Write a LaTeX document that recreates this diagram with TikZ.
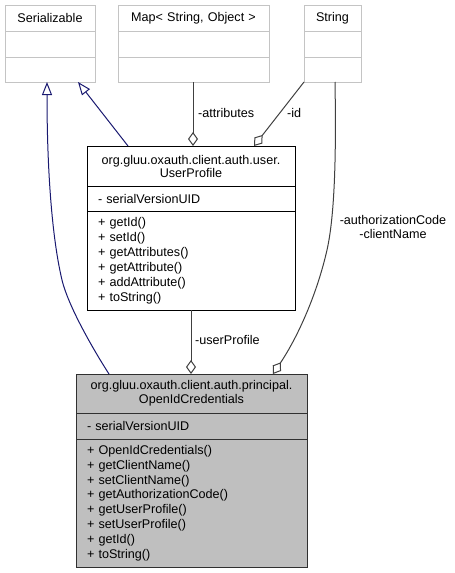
\documentclass[tikz,border=0pt]{standalone}
\usepackage{fontspec}
\setmainfont{Liberation Sans}
\usetikzlibrary{arrows.meta,calc}
\definecolor{edgeblue}{RGB}{25,25,112}
\definecolor{edgegray}{RGB}{64,64,64}
\definecolor{boxgray}{RGB}{191,191,191}
\definecolor{lightline}{RGB}{196,196,196}
\definecolor{darkline}{RGB}{48,48,48}
\tikzset{
  comp/.style={line width=1pt, anchor=north west, inner xsep=0pt, inner ysep=0pt,
    outer sep=0pt, font=\fontsize{12.6}{14}\selectfont},
  topbox/.style={comp, draw=lightline, fill=white},
  upbox/.style={comp, draw=black, fill=white},
  ocbox/.style={comp, draw=darkline, fill=boxgray},
  ttl/.style={align=center},
  mlist/.style={align=left, inner xsep=11pt},
  inherit/.style={draw=edgeblue, line width=1pt, -{Triangle[open,length=13pt,width=10pt]}},
  aggr/.style={draw=edgegray, line width=1pt, {Diamond[open,length=14pt,width=10pt]}-},
  lbl/.style={font=\fontsize{12.6}{14}\selectfont, inner sep=0pt},
}
\begin{document}
\begin{tikzpicture}[x=1pt,y=-1pt]
\useasboundingbox (0,0) rectangle (455,573);
% Serializable
\node[topbox, ttl, text width=90, minimum height=26] (ser) at (5,5) {Serializable};
\node[topbox, minimum width=90, minimum height=26] (ser-a) at (5,31) {};
\node[topbox, minimum width=90, minimum height=25] (ser-m) at (5,57) {};
% Map
\node[topbox, ttl, text width=151, minimum height=26] (map) at (118,5) {Map< String, Object >};
\node[topbox, minimum width=151, minimum height=26] (map-a) at (118,31) {};
\node[topbox, minimum width=151, minimum height=25] (map-m) at (118,57) {};
% String
\node[topbox, ttl, text width=57, minimum height=26] (str) at (304,5) {String};
\node[topbox, minimum width=57, minimum height=26] (str-a) at (304,31) {};
\node[topbox, minimum width=57, minimum height=25] (str-m) at (304,57) {};
% UserProfile
\node[upbox, ttl, text width=208, minimum height=40, font=\fontsize{12.6}{13}\selectfont] (up) at (87,146)
  {org.gluu.oxauth.client.auth.user.\\UserProfile};
\node[upbox, mlist, text width=186, minimum height=25] (up-a) at (87,186) {- serialVersionUID};
\node[upbox, mlist, text width=186, minimum height=99, font=\fontsize{12.6}{15}\selectfont] (up-m) at (87,211)
  {+ getId()\\+ setId()\\+ getAttributes()\\+ getAttribute()\\+ addAttribute()\\+ toString()};
% OpenIdCredentials
\node[ocbox, ttl, text width=231, minimum height=39] (oc) at (76,374)
  {org.gluu.oxauth.client.auth.principal.\\OpenIdCredentials};
\node[ocbox, mlist, text width=209, minimum height=26] (oc-a) at (76,413) {- serialVersionUID};
\node[ocbox, mlist, text width=209, minimum height=128, font=\fontsize{12.6}{14.8}\selectfont] (oc-m) at (76,439)
  {+ OpenIdCredentials()\\+ getClientName()\\+ setClientName()\\+ getAuthorizationCode()\\+ getUserProfile()\\+ setUserProfile()\\+ getId()\\+ toString()};
% connection points
\coordinate (c1s) at ($(oc.north west)+(33,0)$);
\coordinate (c1e) at ($(ser-m.south west)+(42,0)$);
\coordinate (c1m) at (62,280);
\coordinate (c2s) at ($(up.north west)+(41,0)$);
\coordinate (c2e) at ($(ser-m.south west)+(73,0)$);
\coordinate (c3s) at ($(up.north west)+(106,0)$);
\coordinate (c3e) at ($(map-m.south west)+(75,0)$);
\coordinate (c4s) at ($(up.north west)+(167,0)$);
\coordinate (c4e) at (str-m.south west);
\coordinate (c5s) at ($(oc.north west)+(197,0)$);
\coordinate (c5e) at ($(str-m.south west)+(31,0)$);
\coordinate (c5m) at (327,250);
\coordinate (c6s) at ($(oc.north west)+(115,0)$);
\coordinate (c6e) at ($(up-m.south west)+(104,0)$);
% edges
\draw[inherit] (c1s) .. controls ($(c1s)+(-11,-17)$) and ($(c1m)+(7,29)$) .. (c1m)
  .. controls ($(c1m)+(-10,-42)$) and ($(c1e)+(0,88)$) .. (c1e);
\draw[inherit] (c2s) -- (c2e);
\draw[aggr] (c3s) -- (c3e);
\draw[aggr] (c4s) -- (c4e);
\draw[aggr] (c5s) .. controls ($(c5s)+(25,-37.4)$) and ($(c5m)+(-10,44)$) .. (c5m)
  .. controls ($(c5m)+(8.8,-39)$) and ($(c5e)+(1,58)$) .. (c5e);
\draw[aggr] (c6s) -- (c6e);
% labels
\node[lbl, anchor=west] (l3) at (198,113) {-attributes};
\node[lbl, anchor=west] (l4) at (287,113) {-id};
\node[lbl, align=center, font=\fontsize{12.6}{14}\selectfont] (l5) at (393,227) {-authorizationCode\\-clientName};
\node[lbl, anchor=west] (l6) at (195,340) {-userProfile};
\end{tikzpicture}
\end{document}
